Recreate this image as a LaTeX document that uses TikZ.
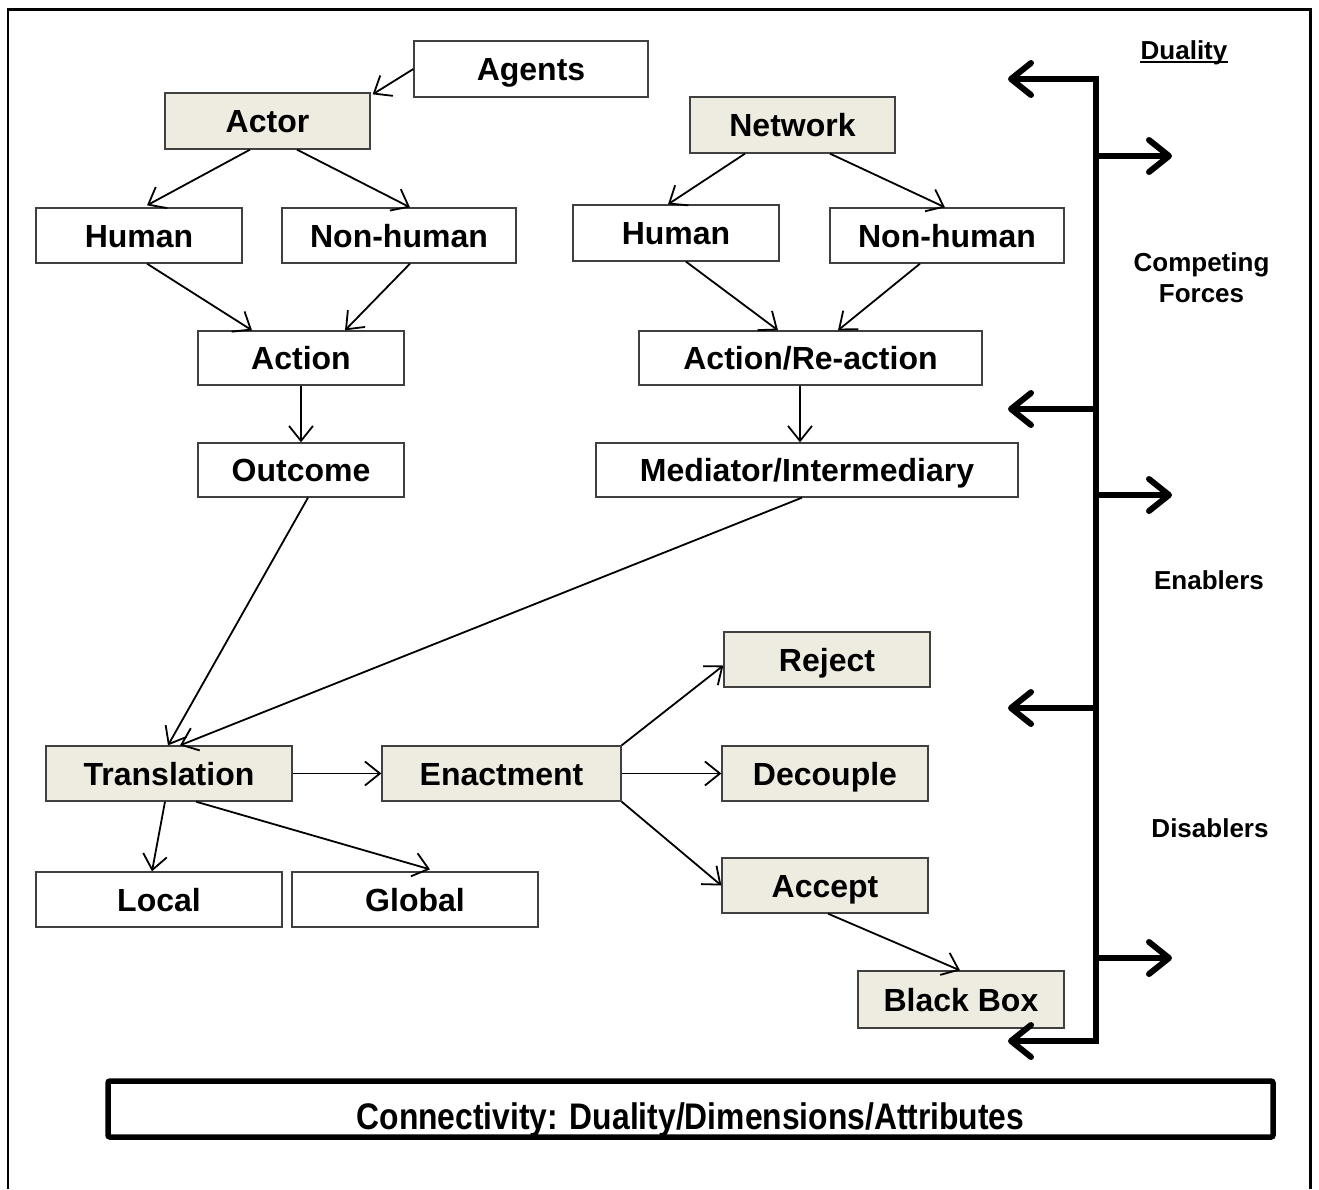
\documentclass[tikz,border=0pt]{standalone}
\usepackage{fontspec}
\setmainfont{Liberation Sans}
\usepackage{graphicx}
\usetikzlibrary{arrows.meta,calc}
\definecolor{boxfill}{HTML}{EEECE1}
\definecolor{boxline}{HTML}{404040}
\tikzset{
  bigbarb/.tip={Straight Barb[length=20pt,width=32pt,round]},
  smallbarb/.tip={Straight Barb[length=15pt,width=24pt]},
}
\begin{document}
\begin{tikzpicture}[x=1pt,y=-1pt,
  plainbox/.style={draw=boxline,line width=1.3pt,fill=white,inner sep=0pt,
    font=\fontsize{32}{35}\selectfont\bfseries,text height=29pt,text depth=6pt},
  shadedbox/.style={plainbox,fill=boxfill},
  size/.style 2 args={minimum width=#1pt,minimum height=#2pt},
  link/.style={line width=1.8pt,-smallbarb},
  spine/.style={line width=6pt},
  sidelabel/.style={inner sep=0pt,font=\fontsize{26}{31}\selectfont\bfseries},
]
\useasboundingbox (0,0) rectangle (1319,1189);

% outer frame
\draw[line width=2.6pt] (8,1189) -- (8,9.5) -- (1310.5,9.5) -- (1310.5,1189);

% actor branch
\node[plainbox,size={234}{56}]  (agents)   at (531,69)    {Agents};
\node[shadedbox,size={205}{56}] (actor)    at (267.5,121) {Actor};
\node[plainbox,size={206}{55}]  (humanL)   at (139,235.5) {Human};
\node[plainbox,size={234}{55}]  (nonhumL)  at (399,235.5) {Non-human};
\node[plainbox,size={206}{54}]  (action)   at (301,358)   {Action};
\node[plainbox,size={206}{54}]  (outcome)  at (301,470)   {Outcome};

% network branch
\node[shadedbox,size={205}{56}] (network)  at (792.5,125) {Network};
\node[plainbox,size={206}{56}]  (humanR)   at (676,233)   {Human};
\node[plainbox,size={234}{55}]  (nonhumR)  at (947,235.5) {Non-human};
\node[plainbox,size={343}{54}]  (actreact) at (810.5,358) {Action/Re-action};
\node[plainbox,size={422}{54}]  (mediator) at (807,470)   {Mediator/Intermediary};

% translation and enactment
\node[shadedbox,size={246}{55}] (transl)   at (169,773.5)   {Translation};
\node[shadedbox,size={239}{55}] (enact)    at (501.5,773.5) {Enactment};
\node[shadedbox,size={206}{55}] (reject)   at (827,659.5)   {Reject};
\node[shadedbox,size={206}{55}] (decouple) at (825,773.5)   {Decouple};
\node[shadedbox,size={206}{55}] (accept)   at (825,885.5)   {Accept};
\node[plainbox,size={246}{55}]  (local)    at (159,899.5)   {Local};
\node[plainbox,size={246}{55}]  (global)   at (415,899.5)   {Global};
\node[shadedbox,size={206}{57}] (blackbox) at (961,999.5)   {Black Box};

% connectors
\draw[link] (agents.west) -- ([shift={(2pt,-2pt)}]actor.north east);
\draw[link] ([xshift=-17.5pt]actor.south) -- ([shift={(8pt,2pt)}]humanL.north);
\draw[link] ([xshift=29.5pt]actor.south) -- ([shift={(11pt,0pt)}]nonhumL.north);
\draw[link] ([xshift=-47.5pt]network.south) -- ([xshift=-8pt]humanR.north);
\draw[link] ([xshift=37.5pt]network.south) -- ([xshift=-2pt]nonhumR.north);
\draw[link] ([xshift=8pt]humanL.south) -- ([xshift=-49pt]action.north);
\draw[link] ([xshift=11pt]nonhumL.south) -- ([xshift=44pt]action.north);
\draw[link] ([xshift=10pt]humanR.south) -- ([xshift=-32.5pt]actreact.north);
\draw[link] ([xshift=-27pt]nonhumR.south) -- ([xshift=27.5pt]actreact.north);
\draw[link] (action.south) -- (outcome.north);
\draw[link] ([xshift=-10.5pt]actreact.south) -- ([xshift=-7pt]mediator.north);
\draw[link] ([xshift=7pt]outcome.south) -- ([xshift=-1pt]transl.north);
\draw[link] ([xshift=-5pt]mediator.south) -- ([xshift=11pt]transl.north);
\draw[link] (transl.east) -- (enact.west);
\draw[link] ([xshift=-4pt]transl.south) -- ([xshift=-7pt]local.north);
\draw[link] ([xshift=27pt]transl.south) -- ([shift={(15pt,2pt)}]global.north);
\draw[link] (enact.north east) -- ([yshift=-6pt]reject.west);
\draw[link] (enact.east) -- (decouple.west);
\draw[link] (enact.south east) -- (accept.west);
\draw[link] ([xshift=3pt]accept.south) -- ([xshift=-1pt]blackbox.north);

% duality bracket
\coordinate (st) at (1096,79);
\coordinate (sb) at (1096,1041);
\coordinate (l1) at (1008,79);
\coordinate (l4) at (1008,1041);
\coordinate (s2) at (1096,409);
\coordinate (l2) at (1008,409);
\coordinate (s3) at (1096,708);
\coordinate (l3) at (1008,708);
\coordinate (s5) at (1096,156);
\coordinate (r1) at (1172,156);
\coordinate (s6) at (1096,495);
\coordinate (r2) at (1172,495);
\coordinate (s7) at (1096,958);
\coordinate (r3) at (1172,958);
\draw[spine,bigbarb-bigbarb] (l1) -- (st) -- (sb) -- (l4);
\draw[spine,-bigbarb] (s2) -- (l2);
\draw[spine,-bigbarb] (s3) -- (l3);
\draw[spine,-bigbarb] (s5) -- (r1);
\draw[spine,-bigbarb] (s6) -- (r2);
\draw[spine,-bigbarb] (s7) -- (r3);

% side labels
\node[sidelabel,anchor=base] (dual) at (1184,59) {Duality};
\draw[line width=2.6pt] ([yshift=-3pt]dual.base west) -- ([yshift=-3pt]dual.base east);
\node[sidelabel,align=center] (compete) at (1201.5,278) {Competing\\Forces};
\node[sidelabel,anchor=base] (enablers) at (1209,589) {Enablers};
\node[sidelabel,anchor=base] (disablers) at (1210,837) {Disablers};

% connectivity bar
\node[draw,line width=5.5pt,rounded corners=2pt,size={1165}{56},inner sep=0pt,
  text height=46pt,text depth=6pt,font=\fontsize{37}{40}\selectfont\bfseries]
  (conn) at (690.5,1109) {\scalebox{0.86}[1]{Connectivity: Duality/Dimensions/Attributes}};
\end{tikzpicture}
\end{document}
